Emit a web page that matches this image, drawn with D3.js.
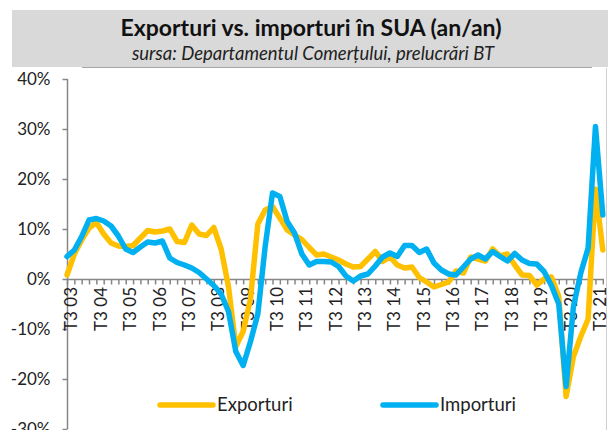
<!DOCTYPE html>
<html>
<head>
<meta charset="utf-8">
<script src="https://cdn.jsdelivr.net/npm/d3@7"></script>
<style>
  body { margin: 0; background: #fff; }
  svg { display: block; font-family: Lato, "Open Sans", sans-serif; }
</style>
</head>
<body>
<svg id="chart" width="608" height="430"></svg>
<script>
// quarters, T3 2003 .. T4 2021
const categories = [
  "T3 03","T4 03","T1 04","T2 04","T3 04","T4 04","T1 05","T2 05","T3 05","T4 05",
  "T1 06","T2 06","T3 06","T4 06","T1 07","T2 07","T3 07","T4 07","T1 08","T2 08",
  "T3 08","T4 08","T1 09","T2 09","T3 09","T4 09","T1 10","T2 10","T3 10","T4 10",
  "T1 11","T2 11","T3 11","T4 11","T1 12","T2 12","T3 12","T4 12","T1 13","T2 13",
  "T3 13","T4 13","T1 14","T2 14","T3 14","T4 14","T1 15","T2 15","T3 15","T4 15",
  "T1 16","T2 16","T3 16","T4 16","T1 17","T2 17","T3 17","T4 17","T1 18","T2 18",
  "T3 18","T4 18","T1 19","T2 19","T3 19","T4 19","T1 20","T2 20","T3 20","T4 20",
  "T1 21","T2 21","T3 21","T4 21"
];
const tickLabels = ["T3 03","T3 04","T3 05","T3 06","T3 07","T3 08","T3 09","T3 10","T3 11",
  "T3 12","T3 13","T3 14","T3 15","T3 16","T3 17","T3 18","T3 19","T3 20","T3 21"];

const exporturi = [
  0.8, 5.0, 7.8, 10.2, 11.3, 9.0, 7.2, 6.6, 6.5, 6.7,
  8.2, 9.7, 9.4, 9.6, 10.0, 7.5, 7.3, 10.8, 9.0, 8.7,
  10.3, 6.0, -1.5, -13.5, -10.5, -4.0, 11.0, 13.8, 14.5, 12.2,
  9.8, 8.8, 7.9, 6.3, 4.8, 5.0, 4.4, 3.8, 3.0, 2.4,
  2.5, 4.0, 5.5, 3.5, 4.4, 2.8, 2.2, 2.4, 0.3, -0.6,
  -1.6, -1.1, -0.6, 1.6, 1.2, 4.4, 4.0, 3.6, 6.0, 4.6,
  5.0, 2.8, 0.8, 0.7, -1.2, 0.0, 0.4, -3.5, -23.5, -15.5,
  -11.5, -8.0, 18.0, 5.8
];
const importuri = [
  4.5, 5.8, 8.5, 11.8, 12.1, 11.6, 10.6, 8.6, 6.0, 5.3,
  6.4, 7.4, 7.2, 7.6, 4.2, 3.3, 2.8, 2.2, 1.3, 0.0,
  -1.3, -3.0, -6.5, -14.5, -17.3, -12.5, -7.0, 6.5, 17.2, 16.5,
  11.5, 9.2, 5.0, 2.8, 3.5, 3.5, 3.4, 2.5, 0.6, -0.4,
  0.6, 1.0, 2.6, 4.4, 5.2, 4.5, 6.7, 6.7, 5.3, 6.0,
  3.2, 1.8, 1.0, 0.8, 2.4, 4.0, 4.8, 4.0, 5.5, 4.5,
  3.6, 5.1, 3.8, 3.1, 3.0, 1.5, -1.3, -5.0, -21.5, -5.5,
  1.2, 6.2, 30.5, 12.8
];
const yTicks = [-30, -20, -10, 0, 10, 20, 30, 40];

const series = [
  { name: "Exporturi", values: exporturi, color: "#FFC000" },
  { name: "Importuri", values: importuri, color: "#00B0F0" }
];

const svg = d3.select("#chart");
const axisColor = "#868686";

// title banner
svg.append("rect")
   .attr("x", 12).attr("y", 10)
   .attr("width", 596).attr("height", 57)
   .attr("fill", "#d9d9d9");
svg.append("line")
   .attr("x1", 82).attr("x2", 592)
   .attr("y1", 67.5).attr("y2", 67.5)
   .attr("stroke", "#a6a6a6");
svg.append("text")
   .attr("x", 311).attr("y", 36)
   .attr("text-anchor", "middle")
   .style("font-size", "23px").style("font-weight", "bold")
   .attr("fill", "#111")
   .text("Exporturi vs. importuri în SUA (an/an)");
svg.append("text")
   .attr("x", 313).attr("y", 60)
   .attr("text-anchor", "middle")
   .style("font-size", "18.5px").style("font-style", "italic")
   .attr("fill", "#222")
   .text("sursa: Departamentul Comerțului, prelucrări BT");

// right border of chart
svg.append("line")
   .attr("x1", 606.5).attr("x2", 606.5)
   .attr("y1", 68).attr("y2", 430)
   .attr("stroke", "#d0d0d0");

// scales
const x = d3.scalePoint().domain(categories).range([67, 602.8]);
const y = d3.scaleLinear().domain([-30, 40]).range([429, 79]);

// y axis
const yAxis = svg.append("g")
   .attr("transform", "translate(67.5,0)")
   .call(d3.axisLeft(y).tickValues(yTicks).tickSize(5).tickPadding(12)
         .tickFormat(d => d + "%"));
yAxis.selectAll("path, line").attr("stroke", axisColor).attr("stroke-width", 1.5);
yAxis.select(".domain").attr("d", `M0,${y(-30)}V${y(40)}`);
yAxis.selectAll("text")
   .style("font-size", "17px").style("font-family", "Lato, sans-serif")
   .attr("fill", "#222");

// x axis at 0%
const xAxis = svg.append("g")
   .attr("transform", `translate(0,${Math.round(y(0)) + 0.5})`)
   .call(d3.axisBottom(x).tickSize(5).tickFormat(""));
xAxis.selectAll("path, line").attr("stroke", axisColor).attr("stroke-width", 1.5);
xAxis.select(".domain").attr("d", `M67,0H604`);

svg.append("g")
   .selectAll("text")
   .data(tickLabels)
   .join("text")
   .attr("transform", d => `translate(${x(d) + 4.5},${y(0) + 8}) rotate(-90)`)
   .attr("dy", "0.35em")
   .attr("text-anchor", "end")
   .style("font-size", "17px")
   .attr("fill", "#222")
   .text(d => d);

// lines
const line = d3.line()
   .x((d, i) => x(categories[i]))
   .y(d => y(d));

svg.append("g")
   .selectAll("path")
   .data(series)
   .join("path")
   .attr("d", d => line(d.values))
   .attr("fill", "none")
   .attr("stroke", d => d.color)
   .attr("stroke-width", 5.5)
   .attr("stroke-linejoin", "round")
   .attr("stroke-linecap", "round");

// legend
const legend = svg.append("g");
const legendX = [160, 383];
series.forEach((s, i) => {
  const g = legend.append("g").attr("transform", `translate(${legendX[i]},405)`);
  g.append("line")
   .attr("x1", 0).attr("x2", 53)
   .attr("stroke", s.color).attr("stroke-width", 5.5)
   .attr("stroke-linecap", "round");
  g.append("text")
   .attr("x", 57).attr("y", 6)
   .style("font-size", "18.5px")
   .attr("fill", "#222")
   .text(s.name);
});
</script>
</body>
</html>
